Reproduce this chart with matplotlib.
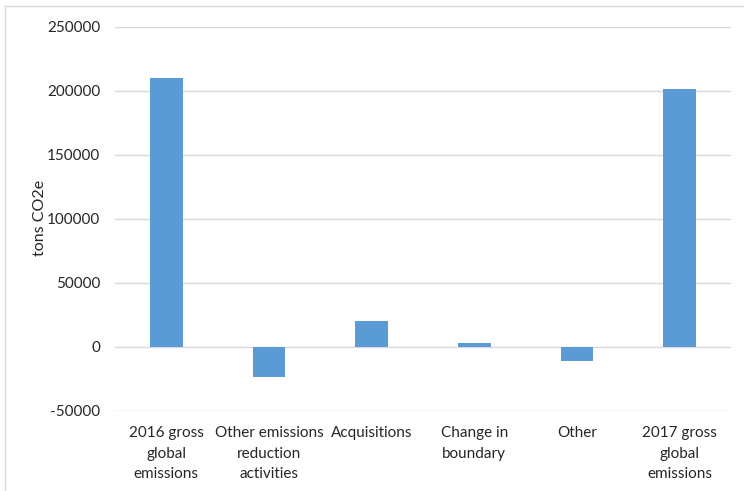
import matplotlib
matplotlib.use('Agg')
import matplotlib.pyplot as plt
from matplotlib.lines import Line2D
import numpy as np

plt.rcParams['font.family'] = ['Lato', 'DejaVu Sans']

categories = ['2016 gross\nglobal\nemissions', 'Other emissions\nreduction\nactivities',
              'Acquisitions', 'Change in\nboundary', 'Other', '2017 gross\nglobal\nemissions']
values = [210300, -23500, 20400, 3400, -11200, 201600]
yticks = [-50000, 0, 50000, 100000, 150000, 200000, 250000]

fig = plt.figure(figsize=(7.44, 4.91), dpi=100)
ax = fig.add_axes([0.1546, 0.163, 0.8279, 0.7826])

x = np.arange(len(categories))
ax.bar(x, values, width=0.32, color='#5b9bd5', zorder=3)

ax.set_xlim(-0.5, len(categories) - 0.5)
ax.set_ylim(-50000, 250000)
ax.set_yticks(yticks)
ax.set_yticklabels([str(v) for v in yticks], fontsize=11, color='#262626')
ax.grid(axis='y', color='#d9d9d9', linewidth=1, zorder=0)
ax.tick_params(axis='both', length=0)
ax.tick_params(axis='y', pad=10.5)
for s in ax.spines.values():
    s.set_visible(False)

ax.set_xticks(x)
ax.set_xticklabels([])
# category labels sit below the plot area, like Excel's "low" label position
for xi, lab in zip(x, categories):
    ax.annotate(lab, xy=(xi, 0), xycoords=('data', 'axes fraction'),
                xytext=(0, -11), textcoords='offset points',
                ha='center', va='top', fontsize=11, color='#262626',
                linespacing=1.6)

fig.text(0.054, 0.556, 'tons CO2e', rotation=90, ha='center', va='center',
         fontsize=11.5, color='#262626')

# light frame at top and left edges of the chart area
fig.add_artist(Line2D([5 / 744, 5 / 744], [0, 1 - 6 / 491], color='#d9d9d9',
                      linewidth=1, transform=fig.transFigure))
fig.add_artist(Line2D([5 / 744, 1], [1 - 6 / 491, 1 - 6 / 491], color='#d9d9d9',
                      linewidth=1, transform=fig.transFigure))

fig.savefig('out.png', dpi=100)
